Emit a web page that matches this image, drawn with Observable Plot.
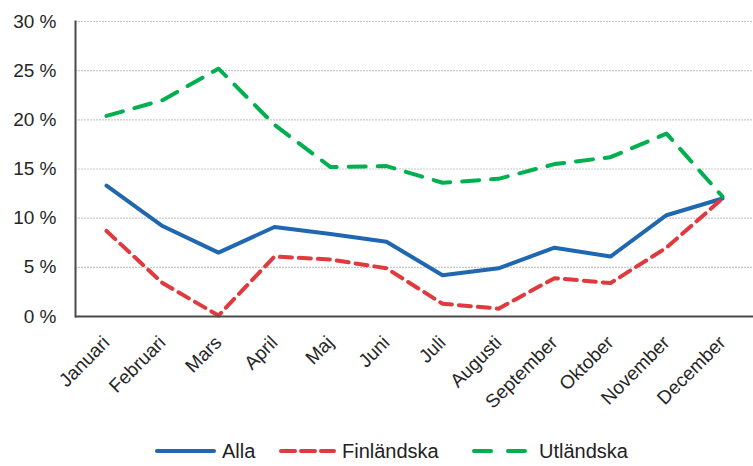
<!DOCTYPE html>
<html><head><meta charset="utf-8">
<script src="https://cdn.jsdelivr.net/npm/d3@7"></script>
<script src="https://cdn.jsdelivr.net/npm/@observablehq/plot@0.6"></script>
<style>
body{margin:0;background:#fff;font-family:"Liberation Sans",Arial,sans-serif;}
#legend{position:relative;height:38px;font-size:20px;color:#222;}
#legend .item{position:absolute;top:0;height:38px;display:flex;align-items:center;}
#legend svg{margin-right:4px;}
</style></head>
<body>
<div id="chart"></div>
<div id="legend"></div>
<script>
const months = ["Januari","Februari","Mars","April","Maj","Juni","Juli","Augusti","September","Oktober","November","December"];
const alla = [13.3, 9.2, 6.5, 9.1, 8.4, 7.6, 4.2, 4.9, 7.0, 6.1, 10.3, 12.0];
const finlandska = [8.7, 3.4, 0.1, 6.1, 5.8, 4.9, 1.3, 0.8, 3.9, 3.4, 7.0, 12.0];
const utlandska = [20.4, 22.0, 25.2, 19.5, 15.2, 15.3, 13.6, 14.0, 15.5, 16.2, 18.6, 12.2];
const yTicks = [0, 5, 10, 15, 20, 25, 30];
const seriesNames = ["Alla", "Finländska", "Utländska"];
const colors = ["#1f67b1", "#e0393e", "#00b04f"];
const dashes = [null, "12,7", "17,12"];

const table = [];
[alla, finlandska, utlandska].forEach((vals, si) => {
  vals.forEach((v, i) => table.push({month: months[i], value: v, series: seriesNames[si]}));
});

const W = 753, H = 432;
const plot = Plot.plot({
  width: W, height: H,
  marginLeft: 75, marginRight: 0, marginTop: 21, marginBottom: H - 316,
  style: {fontFamily: '"Liberation Sans", Arial, sans-serif', fontSize: "19px", color: "#262626", background: "#fff"},
  x: {type: "point", domain: months, padding: 0.5, label: null},
  y: {domain: [0, 30], label: null},
  marks: [
    Plot.ruleY(yTicks.filter(d => d > 0), {stroke: "#c9c9c9", strokeWidth: 1.2, strokeDasharray: "2,1"}),
    Plot.axisY({ticks: yTicks, tickSize: 0, tickPadding: 19, tickFormat: d => d + " %", fontSize: 19, label: null}),
    Plot.axisX({tickSize: 0, tickRotate: -45, tickPadding: 23, fontSize: 19, textAnchor: "end", label: null}),
    ...seriesNames.map((s, si) => Plot.line(table.filter(d => d.series === s), {
      x: "month", y: "value", stroke: colors[si], strokeWidth: 4,
      strokeDasharray: dashes[si], strokeLinejoin: "round"
    })),
    Plot.ruleY([0], {stroke: "#4a4a4a", strokeWidth: 2}),
    Plot.frame({anchor: "left", stroke: "#4a4a4a", strokeWidth: 2})
  ]
});
document.getElementById("chart").appendChild(plot);

const legend = document.getElementById("legend");
const swW = [57, 53, 51];
const swDash = [null, "14,6", "17,17"];
const lefts = [155, 279, 472];
seriesNames.forEach((s, i) => {
  const item = document.createElement("div");
  item.className = "item";
  item.style.left = lefts[i] + "px";
  item.innerHTML = `<svg width="${swW[i] + 4}" height="10"><line x1="2" x2="${swW[i] + 2}" y1="5" y2="5" stroke="${colors[i]}" stroke-width="4" ${swDash[i] ? `stroke-dasharray="${swDash[i]}"` : ""} stroke-linecap="round"/></svg><span style="margin-left:${i === 2 ? 8 : 2}px">${s}</span>`;
  legend.appendChild(item);
});
</script>
</body></html>
